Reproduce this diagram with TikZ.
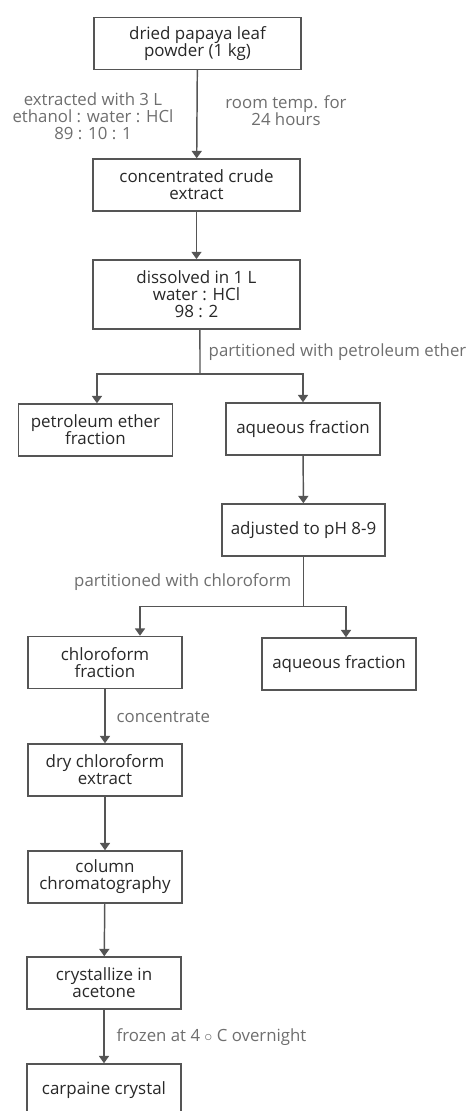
\documentclass[tikz,border=0pt]{standalone}
\usepackage{fontspec}
\setmainfont{Open Sans}
\usetikzlibrary{arrows.meta,calc}

\definecolor{boxgray}{RGB}{85,85,85}
\definecolor{textgray}{RGB}{40,40,40}
\definecolor{notegray}{RGB}{110,110,110}

\tikzset{every picture/.style={line width=1.1pt}}
\tikzset{
  stepbox/.style={draw=boxgray, fill=white, text=textgray, align=center, inner sep=0.75pt,
    minimum width=115.5pt, minimum height=39pt, font=\fontsize{12.7}{12.8}\selectfont},
  note/.style={text=notegray, align=center, inner sep=0.75pt, font=\fontsize{12.6}{12.8}\selectfont},
  flow/.style={draw=boxgray, -{Triangle[width=7.5pt,length=5.5pt]}},
}

\begin{document}
\begin{tikzpicture}[x=0.75pt,y=0.75pt,yscale=-1,xscale=1]
    \useasboundingbox (0,0) rectangle (469,1111);

    %Shape: Rectangle [leaf]
    \node [stepbox, minimum width=155pt] (leaf) at (197.5,43.5) {dried papaya leaf\\powder (1 kg)};
    %Shape: Rectangle [crude]
    \node [stepbox, minimum width=155pt] (crude) at (196.5,185) {concentrated crude\\extract};
    %Shape: Rectangle [dissolve]
    \node [stepbox, minimum width=155pt, minimum height=52pt] (dissolve) at (196.5,294.5) {dissolved in 1 L\\water : HCl\\98 : 2};
    %Shape: Rectangle [petfrac]
    \node [stepbox] (petfrac) at (95.5,430) {petroleum ether\\fraction};
    %Shape: Rectangle [aqfracA]
    \node [stepbox] (aqfracA) at (303,429) {aqueous fraction};
    %Shape: Rectangle [adjust]
    \node [stepbox, minimum width=122pt] (adjust) at (303.5,530) {adjusted to pH 8-9};
    %Shape: Rectangle [chlfrac]
    \node [stepbox] (chlfrac) at (105,662.5) {chloroform\\fraction};
    %Shape: Rectangle [aqfracB]
    \node [stepbox] (aqfracB) at (339,664) {aqueous fraction};
    %Shape: Rectangle [dryext]
    \node [stepbox] (dryext) at (105,770) {dry chloroform\\extract};
    %Shape: Rectangle [column]
    \node [stepbox] (column) at (105,877) {column\\chromatography};
    %Shape: Rectangle [crystallize]
    \node [stepbox] (crystallize) at (104,983) {crystallize in\\acetone};
    %Shape: Rectangle [carpaine]
    \node [stepbox] (carpaine) at (104,1090) {carpaine crystal};

    %Straight Lines
    \draw [flow] (leaf) -- (crude);
    \draw [flow] (crude) -- (dissolve);
    %Straight Lines [split petroleum ether]
    \coordinate (splitA) at ($(dissolve.south)+(3.5,44)$);
    \draw [draw=boxgray] ([xshift=2.6pt]dissolve.south) -- (splitA);
    \draw [flow] (splitA) -| ([xshift=1.1pt]petfrac.north);
    \draw [flow] (splitA) -| (aqfracA.north);
    \draw [flow] (aqfracA) -- (adjust);
    %Straight Lines [split chloroform]
    \coordinate (splitB) at ($(adjust.south)+(0,50)$);
    \draw [draw=boxgray] (adjust.south) -- (splitB);
    \draw [flow] (splitB) -| ([xshift=26.25pt]chlfrac.north);
    \draw [flow] (splitB) -| ([xshift=5.25pt]aqfracB.north);
    \draw [flow] (chlfrac) -- (dryext);
    \draw [flow] (dryext) -- (column);
    \draw [flow] (column) -- (crystallize);
    \draw [flow] (crystallize) -- (carpaine);

    % Text Node
    \node [note] (extract) at (93,116) {extracted with 3 L\\ethanol : water : HCl\\89 : 10 : 1};
    % Text Node
    \node [note] (roomtemp) at (286,111) {room temp. for\\24 hours};
    % Text Node
    \node [note, anchor=west] (petnote) at (207,352) {partitioned with petroleum ether};
    % Text Node
    \node [note, anchor=east] (chlnote) at (293,582) {partitioned with chloroform};
    % Text Node
    \node [note, anchor=west] (concnote) at (115,717) {concentrate};
    % Text Node
    \node [note, anchor=west] (freeze) at (115,1037) {frozen at 4 $\circ$ C overnight};
\end{tikzpicture}
\end{document}
